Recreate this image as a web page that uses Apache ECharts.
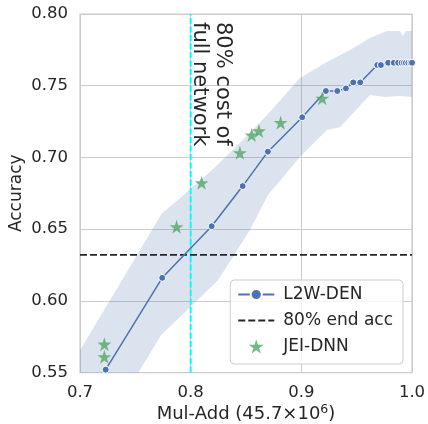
<!DOCTYPE html>
<html>
<head>
<meta charset="utf-8">
<script src="https://cdn.jsdelivr.net/npm/echarts@6/dist/echarts.min.js"></script>
<style>
  html, body { margin: 0; padding: 0; background: #fff; }
  #chart { width: 428px; height: 424px; }
</style>
</head>
<body>
<div id="chart"></div>
<script>
// L2W-DEN 曲线
var l2wX = [0.7232, 0.7743, 0.819, 0.847, 0.8698, 0.9008, 0.9222, 0.9325, 0.9403, 0.9469, 0.9532,
  0.9686, 0.9719, 0.9785, 0.9836, 0.9875, 0.9906, 0.9927, 0.9945, 0.9966, 0.9987, 1.0]
var l2wY = [0.552, 0.616, 0.652, 0.680, 0.704, 0.728, 0.7463, 0.7463, 0.7481, 0.7523, 0.7523,
  0.7644, 0.7644, 0.766, 0.766, 0.766, 0.766, 0.766, 0.766, 0.766, 0.766, 0.766]

// 阴影带 上下边界
var bandUpperX = [0.69, 0.700, 0.7741, 0.7903, 0.8201, 0.8491, 0.8716, 0.8987, 0.9231, 0.9439, 0.962, 0.9773, 0.9891, 0.9918, 0.9945, 1.0]
var bandUpperY = [0.553, 0.5655, 0.6611, 0.6716, 0.6918, 0.7135, 0.7316, 0.7553, 0.7665, 0.7749, 0.7833, 0.7881, 0.7881, 0.7846, 0.7881, 0.7881]
var bandLowerX = [0.69, 0.7232, 0.7524, 0.7732, 0.8247, 0.8536, 0.8698, 0.8987, 0.9231, 0.9349, 0.962, 0.9755, 0.9891, 1.0]
var bandLowerY = [0.47, 0.5125, 0.5495, 0.576, 0.6144, 0.6493, 0.6737, 0.7002, 0.7191, 0.7211, 0.7435, 0.7421, 0.7428, 0.7421]

// JEI-DNN 星形点
var jeiX = [0.722, 0.722, 0.7873, 0.8099, 0.8445, 0.8551, 0.8617, 0.8813, 0.9189]
var jeiY = [0.5697, 0.5609, 0.6516, 0.6823, 0.7032, 0.7156, 0.7184, 0.7242, 0.7412]

// 参考线
var endAcc = 0.632
var costLine = 0.8

var font = "DejaVu Sans"
var textColor = "#262626"

function pairs(xs, ys) {
  return xs.map(function (x, i) { return [x, ys[i]] })
}

// matplotlib 风格五角星
function starPath() {
  var d = ""
  for (var i = 0; i < 10; i++) {
    var r = i % 2 === 0 ? 10 : 3.82
    var a = -Math.PI / 2 + i * Math.PI / 5
    d += (i === 0 ? "M" : "L") + (r * Math.cos(a)).toFixed(3) + "," + (r * Math.sin(a)).toFixed(3)
  }
  return "path://" + d + "Z"
}

var myChart = echarts.init(document.getElementById("chart"))

var option = {
  animation: false,
  textStyle: { fontFamily: font },
  grid: {
    left: 80, right: 16, top: 14, bottom: 51.5,
    outerBoundsMode: "none",
    show: true,
    borderColor: "#cccccc",
    borderWidth: 1.25
  },
  legend: {
    data: [
      { name: "L2W-DEN" },
      { name: "80% end acc", itemStyle: { opacity: 0 } },
      { name: "JEI-DNN" }
    ],
    orient: "vertical",
    right: 25,
    bottom: 60,
    itemWidth: 36,
    itemHeight: 14,
    itemGap: 9,
    padding: [6, 10, 9, 7],
    backgroundColor: "rgba(255,255,255,0.8)",
    borderColor: "#cccccc",
    borderWidth: 1,
    borderRadius: 4,
    textStyle: { fontSize: 17, lineHeight: 17, color: textColor, fontFamily: font, padding: [0, 0, 0, 4] }
  },
  xAxis: {
    type: "value",
    min: 0.7, max: 1.0, interval: 0.1,
    name: "Mul-Add (45.7×10{sup|6})",
    nameLocation: "middle",
    nameMoveOverlap: false,
    nameGap: 31,
    nameTextStyle: {
      fontSize: 18, color: textColor, fontFamily: font,
      rich: { sup: { fontSize: 12.5, color: textColor, fontFamily: font, padding: [0, 0, 9, 0] } }
    },
    axisLine: { show: false },
    axisTick: { show: false },
    axisLabel: { fontSize: 16.5, color: textColor, margin: 12, formatter: function (v) { return v.toFixed(1) } },
    splitLine: { lineStyle: { color: "#cccccc", width: 1 } }
  },
  yAxis: {
    type: "value",
    min: 0.55, max: 0.80, interval: 0.05,
    name: "Accuracy",
    nameLocation: "middle",
    nameMoveOverlap: false,
    nameGap: 55,
    nameTextStyle: { fontSize: 17, color: textColor, fontFamily: font },
    axisLine: { show: false },
    axisTick: { show: false },
    axisLabel: { fontSize: 16.5, color: textColor, margin: 12, formatter: function (v) { return v.toFixed(2) } },
    splitLine: { lineStyle: { color: "#cccccc", width: 1 } }
  },
  series: [
    {
      name: "band",
      type: "custom",
      clip: true,
      silent: true,
      z: 1,
      data: [[0.8, 0.65]],
      renderItem: function (params, api) {
        var pts = []
        for (var i = 0; i < bandUpperX.length; i++) pts.push(api.coord([bandUpperX[i], bandUpperY[i]]))
        for (var j = bandLowerX.length - 1; j >= 0; j--) pts.push(api.coord([bandLowerX[j], bandLowerY[j]]))
        return {
          type: "polygon",
          shape: { points: pts },
          style: { fill: "rgba(76,114,176,0.2)", stroke: null }
        }
      }
    },
    {
      name: "cost",
      type: "line",
      data: [[costLine, 0.55], [costLine, 0.80]],
      symbol: "none",
      z: 2,
      lineStyle: { color: "#00ffff", width: 2, type: [6, 2.5] }
    },
    {
      name: "80% end acc",
      type: "line",
      data: [[0.7, endAcc], [1.0, endAcc]],
      symbol: "none",
      z: 3,
      itemStyle: { color: "#262626" },
      lineStyle: { color: "#262626", width: 1.8, type: [7, 3] }
    },
    {
      name: "L2W-DEN",
      type: "line",
      data: pairs(l2wX, l2wY),
      symbol: "circle",
      symbolSize: 7,
      showAllSymbol: true,
      z: 4,
      itemStyle: { color: "#4c72b0", borderColor: "#ffffff", borderWidth: 1 },
      lineStyle: { color: "#4c72b0", width: 1.5 }
    },
    {
      name: "JEI-DNN",
      type: "scatter",
      data: pairs(jeiX, jeiY),
      symbol: starPath(),
      symbolSize: 14,
      z: 5,
      itemStyle: { color: "#55a868" }
    }
  ]
}

myChart.setOption(option)

// 竖线旁的注释文字
var px = myChart.convertToPixel({ xAxisIndex: 0 }, costLine)
var py = myChart.convertToPixel({ yAxisIndex: 0 }, 0.80)
myChart.setOption({
  graphic: [{
    type: "text",
    x: px + 43,
    y: py + 8,
    rotation: -Math.PI / 2,
    z: 10,
    style: {
      text: "80% cost of\nfull network",
      font: "21px " + font,
      lineHeight: 23,
      fill: textColor,
      align: "left",
      verticalAlign: "top"
    }
  }]
})

window.addEventListener("resize", function () {
  myChart.resize()
})
</script>
</body>
</html>
